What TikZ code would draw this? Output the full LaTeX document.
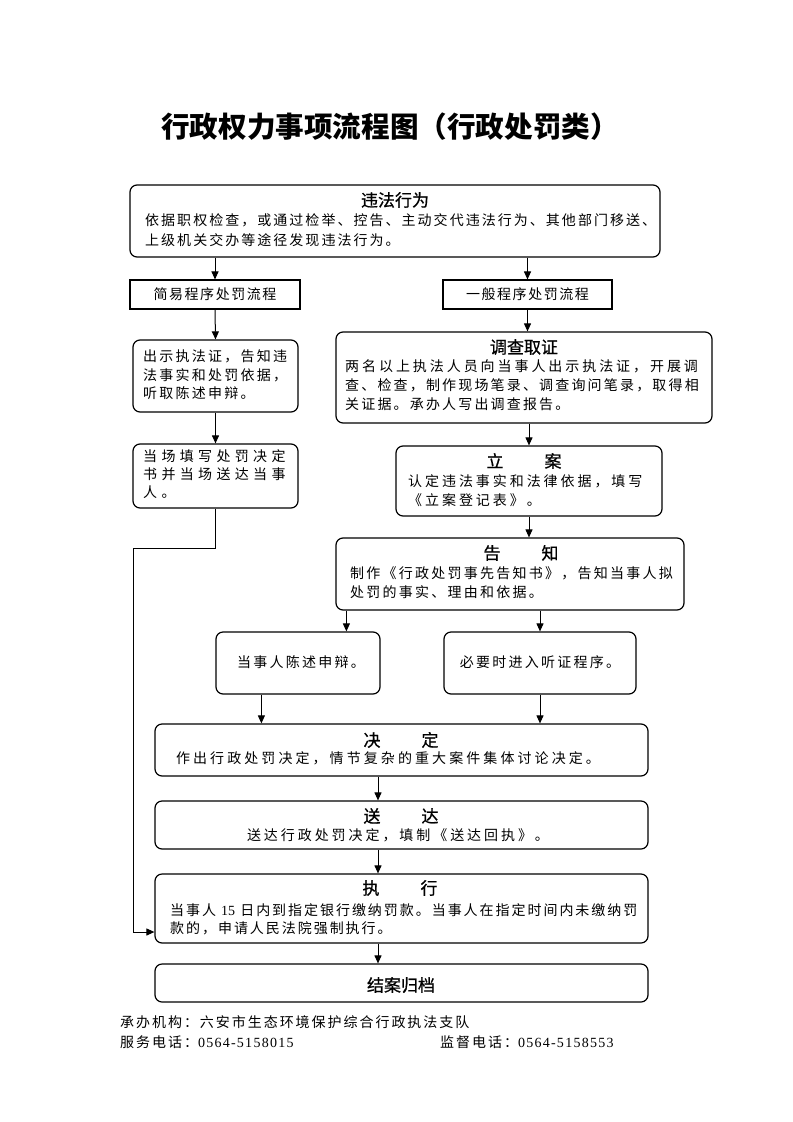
\documentclass[tikz,border=0pt]{standalone}
\usepackage{fontspec}
\usetikzlibrary{arrows.meta}
\setmainfont{Liberation Serif}
\newfontfamily\cjk{Noto Sans CJK SC}
\newcommand\bodyf[1]{\fontsize{14bp}{19bp}\selectfont\cjk\addfontfeature{LetterSpace=#1}}
\newcommand\headf{\fontsize{17bp}{20bp}\selectfont\cjk\addfontfeature{FakeBold=0.8}}
\newcommand\lat[1]{{\rmfamily #1}}
\newcommand\digs[1]{{\rmfamily\addfontfeature{LetterSpace=9}#1}}
\newcommand\gap{\hspace{41bp}}
\begin{document}
\begin{tikzpicture}[x=1bp,y=-1bp,
  box/.style={draw, line width=1.2bp, rounded corners=7bp, inner sep=0pt},
  sbox/.style={draw, line width=1.1bp, inner sep=0pt},
  txt/.style={inner sep=0pt, anchor=west},
  ctxt/.style={inner sep=0pt},
  arr/.style={line width=1bp, -{Triangle[length=8bp,width=7bp]}},
  ln/.style={line width=1bp}]
\useasboundingbox[fill=white] (0,0) rectangle (793,1122);

% title
\node[ctxt, font={\fontsize{28.6bp}{31bp}\selectfont\cjk\bfseries}] (title) at (390,127) {行政权力事项流程图（行政处罚类）};

% boxes
\node[box, minimum width=530bp, minimum height=72bp] (b1) at (395,221) {};
\node[sbox, minimum width=170bp, minimum height=29bp] (jy) at (215,294.5) {};
\node[sbox, minimum width=169bp, minimum height=29bp] (yb) at (527.5,294.5) {};
\node[box, minimum width=165bp, minimum height=72bp] (cs) at (215.5,376) {};
\node[box, minimum width=165bp, minimum height=64bp] (dc) at (215.5,476) {};
\node[box, minimum width=376bp, minimum height=91bp] (dq) at (524,377.5) {};
\node[box, minimum width=266bp, minimum height=70bp] (la) at (529,481) {};
\node[box, minimum width=348bp, minimum height=72bp] (gz) at (510,574) {};
\node[box, minimum width=164bp, minimum height=62bp] (cb) at (298,663) {};
\node[box, minimum width=192bp, minimum height=62bp] (tz) at (540,663) {};
\node[box, minimum width=493bp, minimum height=52bp] (jd) at (401.5,750) {};
\node[box, minimum width=493bp, minimum height=48bp] (sd) at (401.5,825) {};
\node[box, minimum width=493bp, minimum height=69bp] (zx) at (401.5,908.5) {};
\node[box, minimum width=493bp, minimum height=38bp] (ja) at (401.5,983) {};

% texts
\node[ctxt, font=\headf] (b1h) at (395,200) {违法行为};
\node[txt, font=\bodyf{14.5}] (b1a) at (145,220) {依据职权检查，或通过检举、控告、主动交代违法行为、其他部门移送、};
\node[txt, font=\bodyf{14.5}] (b1b) at (145,240) {上级机关交办等途径发现违法行为。};

\node[ctxt, font=\bodyf{11}] (jyt) at (215,294.5) {简易程序处罚流程};
\node[ctxt, font=\bodyf{11}] (ybt) at (527.5,294.5) {一般程序处罚流程};

\node[txt, font=\bodyf{16}] (csa) at (143,356) {出示执法证，告知违};
\node[txt, font=\bodyf{16}] (csb) at (143,375) {法事实和处罚依据，};
\node[txt, font=\bodyf{16}] (csc) at (143,393) {听取陈述申辩。};

\node[txt, font=\bodyf{31}] (dca) at (143,456) {当场填写处罚决定};
\node[txt, font=\bodyf{31}] (dcb) at (143,474) {书并当场送达当事};
\node[txt, font=\bodyf{31}] (dcc) at (143,492) {人。};

\node[ctxt, font=\headf] (dqh) at (524,347) {调查取证};
\node[txt, font=\bodyf{21}] (dqa) at (345,366) {两名以上执法人员向当事人出示执法证，开展调};
\node[txt, font=\bodyf{15.5}] (dqb) at (345,385) {查、检查，制作现场笔录、调查询问笔录，取得相};
\node[txt, font=\bodyf{15.5}] (dqc) at (345,404) {关证据。承办人写出调查报告。};

\node[ctxt, font=\headf] (lah) at (524,461) {立\gap 案};
\node[txt, font=\bodyf{21}] (laa) at (408,481) {认定违法事实和法律依据，填写};
\node[txt, font=\bodyf{21}] (lab) at (408,500) {《立案登记表》。};

\node[ctxt, font=\headf] (gzh) at (521,553) {告\gap 知};
\node[txt, font=\bodyf{16}] (gza) at (350,573) {制作《行政处罚事先告知书》，告知当事人拟};
\node[txt, font=\bodyf{16}] (gzb) at (350,592) {处罚的事实、理由和依据。};

\node[ctxt, font=\bodyf{16}] (cbt) at (301,662) {当事人陈述申辩。};
\node[ctxt, font=\bodyf{16}] (tzt) at (540,662) {必要时进入听证程序。};

\node[ctxt, font=\headf] (jdh) at (401,740) {决\gap 定};
\node[ctxt, font=\bodyf{22}] (jda) at (388,758) {作出行政处罚决定，情节复杂的重大案件集体讨论决定。};

\node[ctxt, font=\headf] (sdh) at (401,816) {送\gap 达};
\node[ctxt, font=\bodyf{21}] (sda) at (398,835) {送达行政处罚决定，填制《送达回执》。};

\node[ctxt, font=\headf] (zxh) at (400,888) {执\gap 行};
\node[txt, font=\bodyf{14}] (zxa) at (170,910) {当事人 \lat{15} 日内到指定银行缴纳罚款。当事人在指定时间内未缴纳罚};
\node[txt, font=\bodyf{14}] (zxb) at (170,928) {款的，申请人民法院强制执行。};

\node[ctxt, font=\headf] (jat) at (401,985) {结案归档};

\node[txt, font=\bodyf{14}] (fa) at (120,1022) {承办机构：六安市生态环境保护综合行政执法支队};
\node[txt, font=\bodyf{14}] (fb) at (120,1042) {服务电话：\digs{0564-5158015}};
\node[txt, font=\bodyf{14}] (fc) at (440,1042) {监督电话：\digs{0564-5158553}};

% connectors
\coordinate (mx) at (378,0);
\coordinate (turn) at (133,548);
\coordinate (low) at (133,932);
\draw[arr] (jy.north |- b1.south) -- (jy.north);
\draw[arr] (yb.north |- b1.south) -- (yb.north);
\draw[arr] (jy.south) -- (cs.north);
\draw[arr] (cs.south) -- (dc.north);
\draw[arr] (yb.south) -- (yb.south |- dq.north);
\draw[arr] (la.north |- dq.south) -- (la.north);
\draw[arr] (la.south) -- (la.south |- gz.north);
\draw[arr] ([xshift=11bp]gz.south west) -- ([xshift=11bp]gz.south west |- cb.north);
\draw[arr] (tz.north |- gz.south) -- (tz.north);
\draw[arr] ([xshift=46bp]cb.south west) -- ([xshift=46bp]cb.south west |- jd.north);
\draw[arr] (tz.south) -- (tz.south |- jd.north);
\draw[arr] (jd.south -| mx) -- (sd.north -| mx);
\draw[arr] (sd.south -| mx) -- (zx.north -| mx);
\draw[arr] (zx.south -| mx) -- (ja.north -| mx);
\draw[arr] (dc.south) |- (turn) -- (low) -- (low -| zx.west);
\end{tikzpicture}
\end{document}
